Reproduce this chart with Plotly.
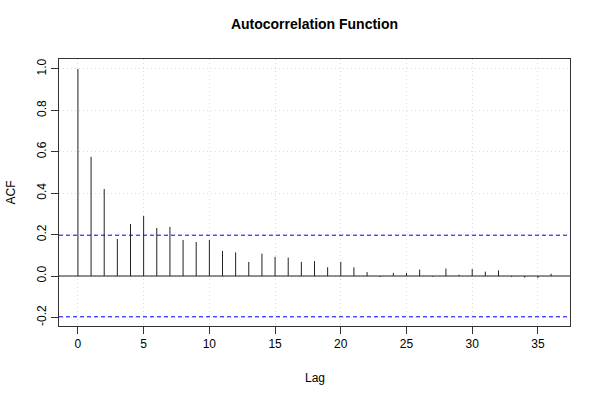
import plotly.graph_objects as go

lags = list(range(0, 37))
acf = [1.0, 0.576, 0.420, 0.179, 0.251, 0.290, 0.232, 0.237, 0.174, 0.164,
       0.174, 0.121, 0.114, 0.068, 0.108, 0.093, 0.089, 0.068, 0.072, 0.042,
       0.068, 0.042, 0.019, -0.005, 0.015, 0.015, 0.031, -0.004, 0.036, 0.006,
       0.034, 0.021, 0.027, -0.005, -0.008, -0.010, 0.011]
conf_bound = 0.197
x_ticks = [0, 5, 10, 15, 20, 25, 30, 35]
y_ticks = [-0.2, 0.0, 0.2, 0.4, 0.6, 0.8, 1.0]
y_labels = ["-0.2", "0.0", "0.2", "0.4", "0.6", "0.8", "1.0"]

FONT = "Liberation Sans, Arial, Helvetica, sans-serif"

xs, ys = [], []
for l, v in zip(lags, acf):
    xs += [l, l, None]
    ys += [0, v, None]

fig = go.Figure()
fig.add_trace(go.Scatter(x=xs, y=ys, mode="lines",
                         line=dict(color="#222222", width=1),
                         hoverinfo="skip", showlegend=False))

fig.add_hline(y=0, line=dict(color="#222222", width=1))
fig.add_hline(y=conf_bound, line=dict(color="blue", width=1, dash="4px,3px"))
fig.add_hline(y=-conf_bound, line=dict(color="blue", width=1, dash="4px,3px"))

fig.update_layout(
    width=600, height=400,
    margin=dict(l=59, r=30, t=59, b=74),
    paper_bgcolor="white", plot_bgcolor="white",
    font=dict(family=FONT, size=12, color="black"),
    title=dict(text="<b>Autocorrelation Function</b>", x=0.5, xref="paper",
               y=1 - 24 / 400, yref="container", yanchor="middle",
               xanchor="center", font=dict(family=FONT, size=14, color="black")),
    showlegend=False,
)

grid = dict(showgrid=True, gridcolor="#dcdcdc", griddash="1px,3px", gridwidth=1)
fig.update_xaxes(range=[-1.44, 37.44], tickvals=x_ticks,
                 ticktext=[str(t) for t in x_ticks],
                 showline=True, linecolor="#333333", linewidth=1, mirror=True,
                 ticks="outside", ticklen=7, tickcolor="#333333",
                 zeroline=False, tickfont=dict(family=FONT, size=12),
                 automargin=False, **grid)
fig.update_yaxes(range=[-0.2415, 1.048], tickvals=y_ticks, ticktext=y_labels,
                 tickangle=-90,
                 showline=True, linecolor="#333333", linewidth=1, mirror=True,
                 ticks="outside", ticklen=7, tickcolor="#333333",
                 zeroline=False, tickfont=dict(family=FONT, size=12),
                 automargin=False, **grid)

fig.add_annotation(text="Lag", xref="paper", yref="paper", x=0.5, y=0,
                   yshift=-52, yanchor="middle", xanchor="center",
                   showarrow=False, font=dict(family=FONT, size=12))
fig.add_annotation(text="ACF", xref="paper", yref="paper", x=0, y=0.5,
                   xshift=-49, xanchor="center", yanchor="middle", textangle=-90,
                   showarrow=False, font=dict(family=FONT, size=12))

fig.write_html("out.html", config={"displayModeBar": False},
               post_script="document.body.style.margin='0';document.body.style.padding='0';")
